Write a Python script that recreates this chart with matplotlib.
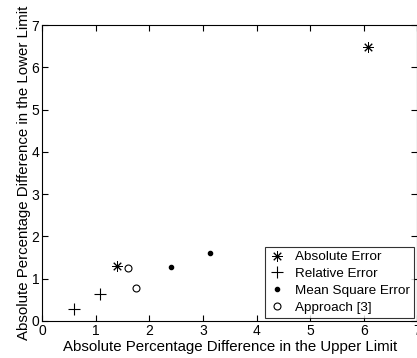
import matplotlib
matplotlib.use("Agg")
import matplotlib.pyplot as plt

plt.rcParams['font.family'] = ['Liberation Sans', 'DejaVu Sans']

abs_x = [6.08, 1.40]
abs_y = [6.49, 1.31]
rel_x = [0.60, 1.08]
rel_y = [0.28, 0.64]
mse_x = [2.41, 3.13]
mse_y = [1.28, 1.61]
app_x = [1.60, 1.76]
app_y = [1.26, 0.77]

fig = plt.figure(figsize=(4.17, 3.58), dpi=100)
ax = fig.add_axes([0.1007, 0.1034, 0.9003, 0.8266])

ax.plot(abs_x, abs_y, linestyle='none', marker=(8, 2, 0), markersize=7.5, color='black', markeredgewidth=0.7, label='Absolute Error')
ax.plot(rel_x, rel_y, linestyle='none', marker='+', markersize=8, color='black', markeredgewidth=0.8, label='Relative Error')
ax.plot(mse_x, mse_y, linestyle='none', marker='.', markersize=6, color='black', label='Mean Square Error')
ax.plot(app_x, app_y, linestyle='none', marker='o', markersize=5, markerfacecolor='none', markeredgecolor='black', markeredgewidth=0.8, label='Approach [3]')

ax.set_xlim(0, 7)
ax.set_ylim(0, 7)
ax.set_xticks(range(0, 8))
ax.set_yticks(range(0, 8))
ax.tick_params(direction='in', top=True, right=True, labelsize=10, length=4, width=0.8, pad=2)
for s in ax.spines.values():
    s.set_linewidth(0.8)

ax.set_xlabel('Absolute Percentage Difference in the Upper Limit', fontsize=10.8, labelpad=1.5)
ax.set_ylabel('Absolute Percentage Difference in the Lower Limit', fontsize=10.8, labelpad=0)

leg = ax.legend(loc='lower right', fontsize=9.7, frameon=True, fancybox=False, edgecolor='black',
                borderpad=0.3, labelspacing=0.32, handlelength=1.2, handletextpad=0.7,
                borderaxespad=0.25)
leg.get_frame().set_linewidth(0.8)

fig.savefig('out.png', dpi=100)
